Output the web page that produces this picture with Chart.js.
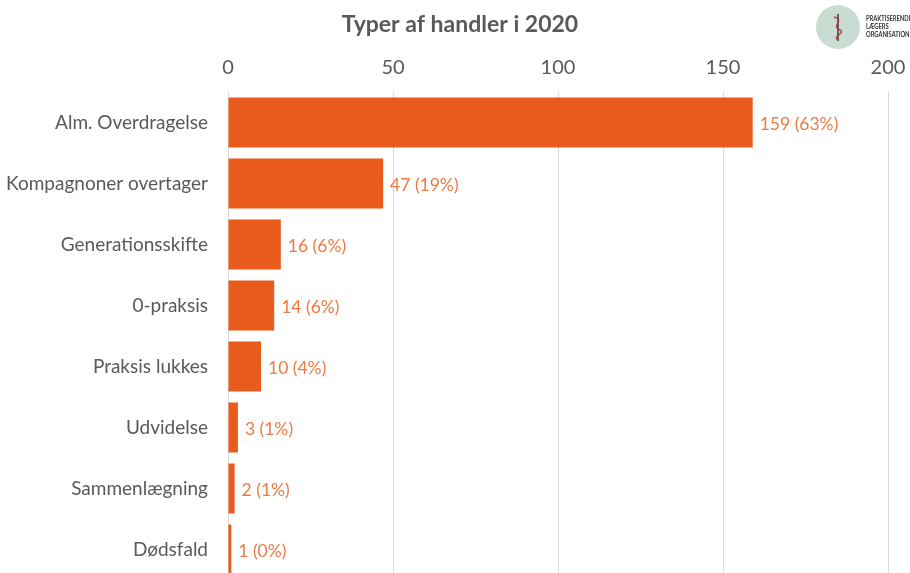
<!DOCTYPE html>
<html>
<head>
<meta charset="utf-8">
<script src="https://cdn.jsdelivr.net/npm/chart.js@4/dist/chart.umd.min.js"></script>
<style>
  html, body { margin: 0; padding: 0; background: #fff; overflow: hidden; }
</style>
</head>
<body>
<canvas id="handlerChart" width="910" height="580"></canvas>
<script>
    // data
    var categories = ['Alm. Overdragelse', 'Kompagnoner overtager', 'Generationsskifte', '0-praksis',
        'Praksis lukkes', 'Udvidelse', 'Sammenlægning', 'Dødsfald'];
    var counts = [159, 47, 16, 14, 10, 3, 2, 1];
    var shares = ['63%', '19%', '6%', '6%', '4%', '1%', '1%', '0%'];
    var xTicks = [0, 50, 100, 150, 200];

    var barColor = '#E95A1D';
    var labelColor = '#EE7A44';
    var textGrey = '#595959';
    var fontName = 'Lato, "Open Sans", sans-serif';

    // title, logo and value labels drawn on top of the chart
    var extras = {
        id: 'extras',
        afterDraw: function (chart) {
            var c = chart.ctx;
            c.save();
            c.fillStyle = textGrey;
            c.font = 'bold 23px ' + fontName;
            c.textAlign = 'center';
            c.textBaseline = 'middle';
            c.fillText('Typer af handler i 2020', 460, 25);

            // logo
            c.fillStyle = '#C9DCD2';
            c.beginPath();
            c.arc(838, 27, 22, 0, Math.PI * 2);
            c.fill();
            c.strokeStyle = '#3a3a3a';
            c.lineWidth = 1.5;
            c.beginPath();
            c.moveTo(838, 14);
            c.lineTo(838, 41);
            c.stroke();
            c.strokeStyle = '#B0413E';
            c.beginPath();
            c.moveTo(834, 17);
            c.bezierCurveTo(846, 20, 830, 26, 840, 30);
            c.bezierCurveTo(846, 33, 832, 36, 838, 40);
            c.stroke();
            // condensed logo text
            c.save();
            c.translate(866, 0);
            c.scale(0.72, 1);
            c.fillStyle = '#333';
            c.font = 'bold 8px ' + fontName;
            c.textAlign = 'left';
            c.fillText('PRAKTISERENDE', 0, 18);
            c.fillText('LÆGERS', 0, 26);
            c.fillText('ORGANISATION', 0, 34);
            c.restore();

            // value labels
            var meta = chart.getDatasetMeta(0);
            c.fillStyle = labelColor;
            c.font = '17.5px ' + fontName;
            c.textAlign = 'left';
            meta.data.forEach(function (bar, i) {
                c.fillText(counts[i] + ' (' + shares[i] + ')', bar.x + 7, bar.y + 2);
            });
            c.restore();
        }
    };

    var ctx = document.getElementById('handlerChart').getContext('2d');
    var handlerChart = new Chart(ctx, {
        type: 'bar',
        data: {
            labels: categories,
            datasets: [{
                data: counts,
                backgroundColor: barColor,
                borderWidth: 0,
                categoryPercentage: 1,
                barPercentage: 0.82
            }]
        },
        options: {
            indexAxis: 'y',
            responsive: false,
            animation: false,
            layout: { padding: { right: 22, top: 0, bottom: 0, left: 0 } },
            scales: {
                x: {
                    position: 'top',
                    min: 0,
                    max: 200,
                    afterBuildTicks: function (axis) {
                        axis.ticks = xTicks.map(v => ({ value: v }));
                    },
                    afterFit: function (axis) {
                        axis.height = 92;
                        axis.paddingLeft = 0; axis.paddingRight = 0;
                        axis.paddingTop = 0; axis.paddingBottom = 0;
                    },
                    grid: { color: '#D9D9D9', lineWidth: 1, drawTicks: false },
                    border: { display: false },
                    ticks: {
                        padding: 12,
                        color: textGrey,
                        font: { family: fontName, size: 20 }
                    }
                },
                y: {
                    afterFit: function (axis) {
                        axis.width = 228;
                        axis.paddingLeft = 0; axis.paddingRight = 0;
                        axis.paddingTop = 0; axis.paddingBottom = 0;
                    },
                    grid: { display: false },
                    border: { display: false },
                    ticks: {
                        padding: 12,
                        color: textGrey,
                        font: { family: fontName, size: 19 }
                    }
                }
            },
            plugins: {
                legend: { display: false },
                tooltip: { enabled: false }
            }
        },
        plugins: [extras]
    });
</script>
</body>
</html>
